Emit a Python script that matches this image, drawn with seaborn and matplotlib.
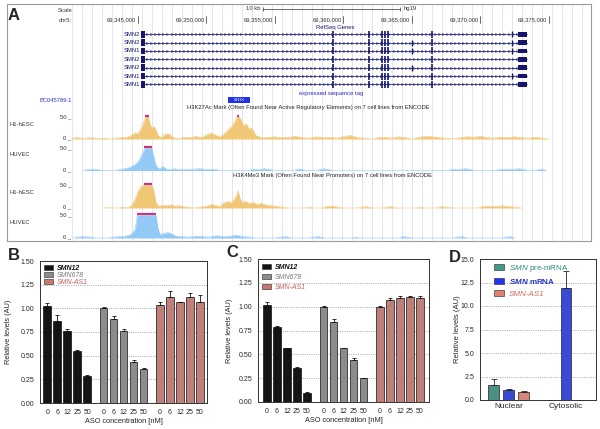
import numpy as np
import pandas as pd
import seaborn as sns
import matplotlib.pyplot as plt
from matplotlib.patches import Patch, Rectangle

# ---- panel A: genome browser values (chr5 positions in kb) ----
coord_ticks = [69345, 69350, 69355, 69360, 69365, 69370, 69375]
gene_names = ['SMN2', 'SMN2', 'SMN1', 'SMN2', 'SMN2', 'SMN1', 'SMN1']
gene_start, gene_end = 69345.2, 69373.4
first_exon = [69345.2, 69345.5]
last_exon = [69372.75, 69373.4]
exons_all = [69359.23, 69361.86, 69362.81, 69363.03, 69363.25, 69366.46]
exon_opt1, exon_opt1_rows = 69365.0, [1, 2, 4]
exon_opt2, exon_opt2_rows = 69372.3, [0, 1, 2, 5]
est_start, est_end = 69351.57, 69353.18
scale_bar = [69354.12, 69364.12]

h3k27ac_h1 = [
    (69340.2, 2), (69340.6, 3), (69341.0, 1), (69341.4, 3), (69341.8, 2), (69342.2, 1),
    (69342.6, 2), (69343.0, 0), (69343.4, 2), (69343.8, 3), (69344.2, 4), (69344.5, 8),
    (69344.8, 14), (69345.0, 12), (69345.2, 22), (69345.4, 35), (69345.55, 58), (69345.65, 64),
    (69345.75, 56), (69345.9, 30), (69346.05, 24), (69346.2, 28), (69346.35, 16), (69346.5, 6),
    (69346.7, 4), (69346.9, 9), (69347.1, 12), (69347.3, 10), (69347.5, 5), (69347.7, 2),
    (69348.0, 1), (69348.4, 4), (69348.8, 3), (69349.2, 6), (69349.6, 3), (69350.0, 9),
    (69350.3, 13), (69350.6, 10), (69350.9, 5), (69351.2, 9), (69351.5, 18), (69351.7, 24),
    (69351.9, 30), (69352.1, 42), (69352.25, 58), (69352.35, 62), (69352.5, 44), (69352.7, 30),
    (69352.9, 34), (69353.1, 22), (69353.3, 24), (69353.6, 8), (69354.0, 3), (69354.5, 4),
    (69355.0, 5), (69355.5, 3), (69356.0, 4), (69356.5, 6), (69357.0, 3), (69357.5, 2),
    (69358.0, 5), (69358.5, 3), (69359.0, 4), (69359.5, 2), (69360.0, 5), (69360.5, 8),
    (69361.0, 3), (69361.5, 2), (69362.0, 0), (69362.5, 3), (69363.0, 4), (69363.5, 2),
    (69364.0, 5), (69364.5, 3), (69365.0, 0), (69365.5, 4), (69366.0, 6), (69366.5, 5),
    (69367.0, 3), (69367.5, 2), (69368.0, 0), (69368.5, 3), (69369.0, 5), (69369.5, 4),
    (69370.0, 6), (69370.5, 3), (69371.0, 2), (69371.5, 4), (69372.0, 3), (69372.5, 5),
    (69373.0, 3), (69373.5, 2), (69374.0, 4), (69374.5, 2), (69375.0, 0),
]
h3k27ac_huvec = [
    (69341.0, 0), (69341.3, 2), (69341.7, 3), (69342.1, 2), (69342.4, 0),
    (69343.3, 0), (69343.6, 2), (69344.0, 4), (69344.3, 6), (69344.6, 10), (69344.9, 16),
    (69345.1, 24), (69345.3, 36), (69345.5, 52), (69345.65, 60), (69345.85, 58), (69346.0, 52),
    (69346.15, 30), (69346.3, 12), (69346.5, 4), (69346.7, 6), (69346.85, 9),
    (69347.0, 4), (69347.3, 2), (69347.6, 4), (69347.9, 2), (69348.3, 3), (69348.7, 2),
    (69349.1, 3), (69349.5, 4), (69349.9, 2), (69350.3, 3), (69350.7, 2), (69351.0, 0),
    (69353.0, 0), (69353.4, 3), (69353.8, 2), (69354.2, 4), (69354.6, 2), (69355.0, 0),
    (69356.4, 0), (69356.7, 3), (69357.0, 2), (69357.3, 0), (69358.0, 0), (69358.3, 2),
    (69358.6, 4), (69358.9, 2), (69359.2, 0),
    (69367.6, 0), (69367.9, 3), (69368.4, 2), (69368.9, 4), (69369.3, 2), (69369.6, 0),
    (69371.0, 0), (69371.3, 2), (69371.8, 3), (69372.3, 2), (69372.8, 4), (69373.2, 2),
    (69373.4, 0), (69374.0, 0), (69374.3, 3), (69374.6, 2), (69374.8, 0),
]
h3k4me3_h1 = [
    (69342.5, 0), (69342.8, 1), (69343.1, 0),
    (69343.6, 0), (69343.9, 2), (69344.2, 1), (69344.4, 3), (69344.6, 8), (69344.8, 20),
    (69345.0, 36), (69345.2, 46), (69345.4, 50), (69345.5, 56), (69345.7, 60), (69345.85, 60),
    (69346.0, 55), (69346.15, 38), (69346.3, 12), (69346.5, 4), (69346.8, 6), (69347.1, 5),
    (69347.4, 7), (69347.7, 4), (69348.0, 5), (69348.3, 3), (69348.6, 2), (69349.0, 0),
    (69349.5, 2), (69350.0, 4), (69350.4, 8), (69350.7, 5), (69351.0, 4), (69351.2, 10),
    (69351.5, 14), (69351.8, 12), (69352.0, 18), (69352.2, 28), (69352.3, 38), (69352.45, 20),
    (69352.6, 12), (69352.8, 15), (69353.1, 10), (69353.4, 12), (69353.7, 8), (69354.0, 10),
    (69354.4, 6), (69354.8, 5), (69355.2, 3), (69355.6, 2), (69356.0, 0),
    (69357.2, 0), (69357.5, 2), (69357.8, 0), (69358.4, 0), (69358.7, 3), (69359.2, 4),
    (69359.6, 2), (69360.0, 0), (69361.0, 0), (69361.3, 2), (69361.7, 3), (69362.1, 0),
    (69362.8, 0), (69363.1, 2), (69363.5, 3), (69363.9, 0), (69365.3, 0), (69365.6, 2),
    (69366.0, 0), (69366.8, 0), (69367.1, 3), (69367.5, 2), (69367.9, 0),
    (69369.8, 0), (69370.1, 3), (69370.6, 4), (69371.1, 3), (69371.6, 5), (69372.1, 3),
    (69372.6, 2), (69373.0, 0),
]
h3k4me3_huvec = [
    (69340.3, 0), (69340.5, 2), (69341.0, 3), (69341.5, 2), (69342.0, 0),
    (69342.8, 0), (69343.1, 2), (69343.6, 3), (69344.1, 4), (69344.5, 8), (69344.8, 20),
    (69344.95, 55), (69345.2, 62), (69345.6, 64), (69346.0, 62), (69346.3, 56), (69346.45, 22),
    (69346.6, 8), (69346.9, 10), (69347.2, 12), (69347.5, 8), (69347.8, 4), (69348.2, 3),
    (69348.7, 2), (69349.2, 4), (69349.7, 3), (69350.2, 2), (69350.7, 5), (69351.2, 3),
    (69351.7, 4), (69352.2, 6), (69352.7, 3), (69353.2, 2), (69353.6, 0),
    (69355.0, 0), (69355.3, 2), (69355.8, 3), (69356.2, 0), (69357.5, 0), (69357.8, 2),
    (69358.2, 3), (69358.6, 0), (69360.5, 0), (69360.8, 2), (69361.2, 0),
    (69364.0, 0), (69364.3, 3), (69364.7, 2), (69365.0, 0), (69368.0, 0), (69368.3, 2),
    (69368.7, 3), (69369.0, 0), (69371.5, 0), (69371.8, 2), (69372.2, 3), (69372.5, 0),
]

# ---- panels B-D: qPCR bar values ----
doses = ['0', '6', '12', '25', '50']
series_names = ['SMN12', 'SMN678', 'SMN-AS1']
b_smn12 = [1.02, 0.87, 0.76, 0.55, 0.28]
b_smn12_err = [0.035, 0.06, 0.025, 0.006, 0.02]
b_smn678 = [1.005, 0.885, 0.76, 0.435, 0.36]
b_smn678_err = [0.008, 0.035, 0.025, 0.02, 0.006]
b_as1 = [1.035, 1.125, 1.065, 1.115, 1.07]
b_as1_err = [0.035, 0.055, 0.005, 0.05, 0.07]
c_smn12 = [1.02, 0.79, 0.565, 0.36, 0.097]
c_smn12_err = [0.03, 0.012, 0.006, 0.005, 0.008]
c_smn678 = [1.0, 0.84, 0.565, 0.445, 0.25]
c_smn678_err = [0.004, 0.035, 0.006, 0.02, 0.004]
c_as1 = [1.0, 1.075, 1.09, 1.10, 1.09]
c_as1_err = [0.004, 0.02, 0.02, 0.015, 0.02]

fractions = ['Nuclear', 'Cytosolic']
d_names = ['pre', 'mrna', 'as1']
d_pre = [1.6, 0.05]
d_pre_err = [0.6, 0.0]
d_mrna = [1.08, 11.9]
d_mrna_err = [0.05, 1.8]
d_as1 = [0.85, 0.04]
d_as1_err = [0.06, 0.0]

bar_colors = ['#141414', '#8c8c8c', '#c9776e']
label_colors = ['#111111', '#7a7a7a', '#c0605a']
d_colors = ['#419a8b', '#1f35f2', '#e47f6d']
d_label_colors = ['#2e8b7e', '#2233cc', '#e06a5a']

sns.set_style('white')
plt.rcParams['font.family'] = 'Liberation Sans'
plt.rcParams['mathtext.fontset'] = 'custom'
plt.rcParams['mathtext.rm'] = 'Liberation Sans'
plt.rcParams['mathtext.it'] = 'Liberation Sans:italic'
plt.rcParams['mathtext.bf'] = 'Liberation Sans:bold'
plt.rcParams['mathtext.bfit'] = 'Liberation Sans:italic:bold'

W, H = 600, 429
fig = plt.figure(figsize=(6, 4.29), dpi=100)


def px_axes(l, t, r, b):
    return fig.add_axes([l / W, 1 - b / H, (r - l) / W, (b - t) / H])


def kbx(px):
    # pixel column of the browser -> kb position
    return 69345 + (px - 138) / 13.7


# ---------------- panel A ----------------
navy = '#16166e'
axA = px_axes(7, 4, 591, 241)
axA.set_xlim(kbx(7), kbx(591))
axA.set_ylim(241, 4)
axA.set_xticks([])
axA.set_yticks([])
for s in axA.spines.values():
    s.set_color('#9a9a9a')
    s.set_linewidth(0.8)
for gx in np.arange(kbx(72), kbx(591), 10 / 13.7):
    axA.axvline(gx, color='#d8d8ee', lw=0.5, zorder=0)

small = 4.2
axA.text(kbx(72), 10, 'Scale', ha='right', va='center', fontsize=small, color='#333')
axA.text(kbx(72), 20, 'chr5:', ha='right', va='center', fontsize=small, color='#333')
axA.plot(scale_bar, [9, 9], color='#333', lw=0.5)
axA.vlines(scale_bar, 7, 11, color='#333', lw=0.5)
axA.text(scale_bar[0] - 0.15, 8.5, '10 kb', ha='right', va='center', fontsize=small, color='#333')
axA.text(scale_bar[1] + 0.3, 8.5, 'hg19', ha='left', va='center', fontsize=small, color='#333')
for c in coord_ticks:
    axA.text(c - 0.12, 20, f'{c * 1000:,.0f}', ha='right', va='center', fontsize=small, color='#333')
    axA.plot([c, c], [16.5, 23.5], color='#333', lw=0.5)
axA.text(kbx(335), 28, 'RefSeq Genes', ha='center', va='center', fontsize=small, color=navy)

for i, name in enumerate(gene_names):
    y = 34.3 + 8.35 * i
    axA.text(kbx(140.5), y, name, ha='right', va='center', fontsize=small, color=navy)
    axA.plot([gene_start, gene_end], [y, y], color=navy, lw=0.5)
    chev = np.arange(gene_start + 0.45, gene_end - 0.7, 0.3)
    axA.plot(chev, [y] * len(chev), ls='none', marker='>', ms=1.5, mfc='none',
             mec=navy, mew=0.35)
    axA.vlines(exons_all, y - 3.5, y + 3.5, color=navy, lw=1.2)
    if i in exon_opt1_rows:
        axA.vlines([exon_opt1], y - 3, y + 3, color=navy, lw=1.0)
    if i in exon_opt2_rows:
        axA.vlines([exon_opt2], y - 3, y + 3, color=navy, lw=1.0)
    axA.add_patch(Rectangle((first_exon[0], y - 3.3), first_exon[1] - first_exon[0], 6.6,
                            color=navy, lw=0))
    axA.add_patch(Rectangle((last_exon[0], y - 2.4), last_exon[1] - last_exon[0], 4.8,
                            color=navy, lw=0))

axA.text(kbx(72), 100, 'BC045789.1', ha='right', va='center', fontsize=small, color='#3333cc')
axA.add_patch(Rectangle((est_start, 96.8), est_end - est_start, 6.4, color='#2233e6', lw=0))
axA.text((est_start + est_end) / 2, 100.2, '\u2039\u2039\u2039\u2039\u2039', ha='center',
         va='center', fontsize=4.8, color='white')
axA.text(kbx(331), 93, 'expressed sequence tag', ha='center', va='center', fontsize=small,
         color='#2a2ab8')
axA.text(kbx(308), 108, 'H3K27Ac Mark (Often Found Near Active Regulatory Elements) on 7 cell '
         'lines from ENCODE', ha='center', va='center', fontsize=small, color='#222')
axA.text(kbx(333), 176, 'H3K4Me3 Mark (Often Found Near Promoters) on 7 cell lines from ENCODE',
         ha='center', va='center', fontsize=small, color='#222')

tracks = [
    ('H1-hESC', h3k27ac_h1, 139, 116.5, '#f1c674', 125),
    ('HUVEC', h3k27ac_huvec, 170.5, 148, '#93c9f6', 155),
    ('H1-hESC', h3k4me3_h1, 208, 185, '#f1c674', 193),
    ('HUVEC', h3k4me3_huvec, 238, 215, '#93c9f6', 223),
]
for name, pts, base, top, col, ly in tracks:
    pos = np.array([p for p, _ in pts])
    val = np.array([v for _, v in pts], dtype=float)
    ysig = base - np.minimum(val, 50) / 50 * (base - top)
    axA.fill_between(pos, base, ysig, color=col, lw=0, zorder=2)
    axA.plot(pos, ysig, color=col, lw=0.4, zorder=2)
    over = val > 50
    idx = np.where(over)[0]
    if len(idx):
        groups = np.split(idx, np.where(np.diff(idx) > 1)[0] + 1)
        for g in groups:
            axA.plot([pos[g[0]] - 0.05, pos[g[-1]] + 0.05], [top - 0.8, top - 0.8],
                     color='#cc3380', lw=1.6, solid_capstyle='butt', zorder=3)
    axA.text(kbx(9), ly, name, ha='left', va='center', fontsize=small, color='#333')
    axA.text(kbx(71.5), top, '50 _', ha='right', va='center', fontsize=small, color='#333')
    axA.text(kbx(71.5), base - 1, '0 _', ha='right', va='center', fontsize=small, color='#333')


# ---------------- panels B and C ----------------
def style_axes(ax):
    for s in ax.spines.values():
        s.set_visible(True)
        s.set_color('#333333')
        s.set_linewidth(0.7)
    ax.tick_params(axis='both', length=2.5, width=0.6, labelsize=5, pad=1.5, color='#333')
    ax.yaxis.grid(True, linestyle=':', color='#8a8a8a', lw=0.6)
    ax.set_axisbelow(True)


def dose_panel(ax, values, errs, legend_y, spacing):
    rows = []
    for g, (name, vals) in enumerate(zip(series_names, values)):
        for j, v in enumerate(vals):
            rows.append({'pos': j + 5.65 * g, 'value': v, 'series': name})
    df = pd.DataFrame(rows)
    sns.barplot(data=df, x='pos', y='value', hue='series', hue_order=series_names,
                palette=bar_colors, native_scale=True, width=0.75, dodge=False,
                edgecolor='#111111', linewidth=0.5, errorbar=None, legend=False, ax=ax)
    err = np.concatenate(errs)
    ax.errorbar(df['pos'], df['value'], yerr=[np.zeros(len(df)), err], fmt='none',
                ecolor='#111111', elinewidth=0.6, capsize=1.6, capthick=0.6)
    ax.set_xticks(df['pos'])
    ax.set_xticklabels(doses * 3)
    ax.set_ylim(0, 1.5)
    ax.set_yticks(np.arange(0, 1.51, 0.25))
    ax.set_yticklabels([f'{t:.2f}' for t in np.arange(0, 1.51, 0.25)])
    style_axes(ax)
    ax.set_ylabel('Relative levels (AU)', fontsize=5.3)
    ax.set_xlabel('ASO concentration [nM]', fontsize=5.3, labelpad=1.5)
    handles = [Patch(facecolor=c, edgecolor='#222', lw=0.4) for c in bar_colors]
    leg = ax.legend(handles, series_names, loc='upper left', bbox_to_anchor=(0.025, legend_y),
                    frameon=False, fontsize=5, handlelength=1.3, handleheight=0.75,
                    handletextpad=0.5, labelspacing=spacing, borderpad=0, borderaxespad=0)
    for t, c in zip(leg.get_texts(), label_colors):
        t.set_color(c)
        t.set_fontstyle('italic')
    leg.get_texts()[0].set_fontweight('bold')


axB = px_axes(40, 261, 207, 403)
dose_panel(axB, [b_smn12, b_smn678, b_as1], [b_smn12_err, b_smn678_err, b_as1_err], 0.975, 0.05)
axB.set_xlim(-0.72, 16.0)
axB.yaxis.set_label_coords(-0.165, 0.5)

axC = px_axes(258, 259, 429, 402)
dose_panel(axC, [c_smn12, c_smn678, c_as1], [c_smn12_err, c_smn678_err, c_as1_err], 0.965, 0.4)
axC.set_xlim(-0.9, 16.2)
axC.yaxis.set_label_coords(-0.148, 0.5)

# ---------------- panel D ----------------
axD = px_axes(480, 259, 596, 400)
rows = []
for f, frac in enumerate(fractions):
    for k, (name, vals) in enumerate(zip(d_names, [d_pre, d_mrna, d_as1])):
        rows.append({'pos': k + 3.8 * f, 'value': vals[f], 'series': name})
dfD = pd.DataFrame(rows)
d_err = [[d_pre_err, d_mrna_err, d_as1_err][k][f] for f in range(2) for k in range(3)]
sns.barplot(data=dfD, x='pos', y='value', hue='series', hue_order=d_names, palette=d_colors,
            native_scale=True, width=0.73, dodge=False, edgecolor='#222222', linewidth=0.5,
            errorbar=None, legend=False, ax=axD)
axD.errorbar(dfD['pos'], dfD['value'], yerr=[np.zeros(len(dfD)), d_err], fmt='none',
             ecolor='#222222', elinewidth=0.6, capsize=2.2, capthick=0.6)
axD.set_xlim(-0.93, 6.8)
axD.set_ylim(0, 15)
axD.set_yticks(np.arange(0, 15.1, 2.5))
axD.set_yticklabels([f'{t:.1f}' for t in np.arange(0, 15.1, 2.5)])
axD.set_xticks([1, 4.8])
axD.set_xticklabels(fractions)
style_axes(axD)
axD.tick_params(axis='x', labelsize=6, length=0, pad=2.5)
axD.set_xlabel('')
axD.set_ylabel('Relative levels (AU)', fontsize=5.5)
axD.yaxis.set_label_coords(-0.165, 0.5)
handles = [Patch(facecolor=c, edgecolor='#222', lw=0.4) for c in d_colors]
legD = axD.legend(handles, [r'$\mathit{SMN}$ pre-mRNA', r'$\mathbfit{SMN}$ mRNA', 'SMN-AS1'],
                  loc='upper left', bbox_to_anchor=(0.12, 0.975), frameon=False, fontsize=5.8,
                  handlelength=1.3, handleheight=0.8, handletextpad=0.6, labelspacing=0.45,
                  borderpad=0, borderaxespad=0)
for t, c in zip(legD.get_texts(), d_label_colors):
    t.set_color(c)
legD.get_texts()[1].set_fontweight('bold')
legD.get_texts()[2].set_fontstyle('italic')

# panel letters
for letter, x, y in [('A', 8, 20), ('B', 8, 260), ('C', 226, 257), ('D', 449, 262)]:
    fig.text(x / W, 1 - y / H, letter, fontsize=12, fontweight='bold', va='baseline')

fig.savefig('out.png', dpi=100)
